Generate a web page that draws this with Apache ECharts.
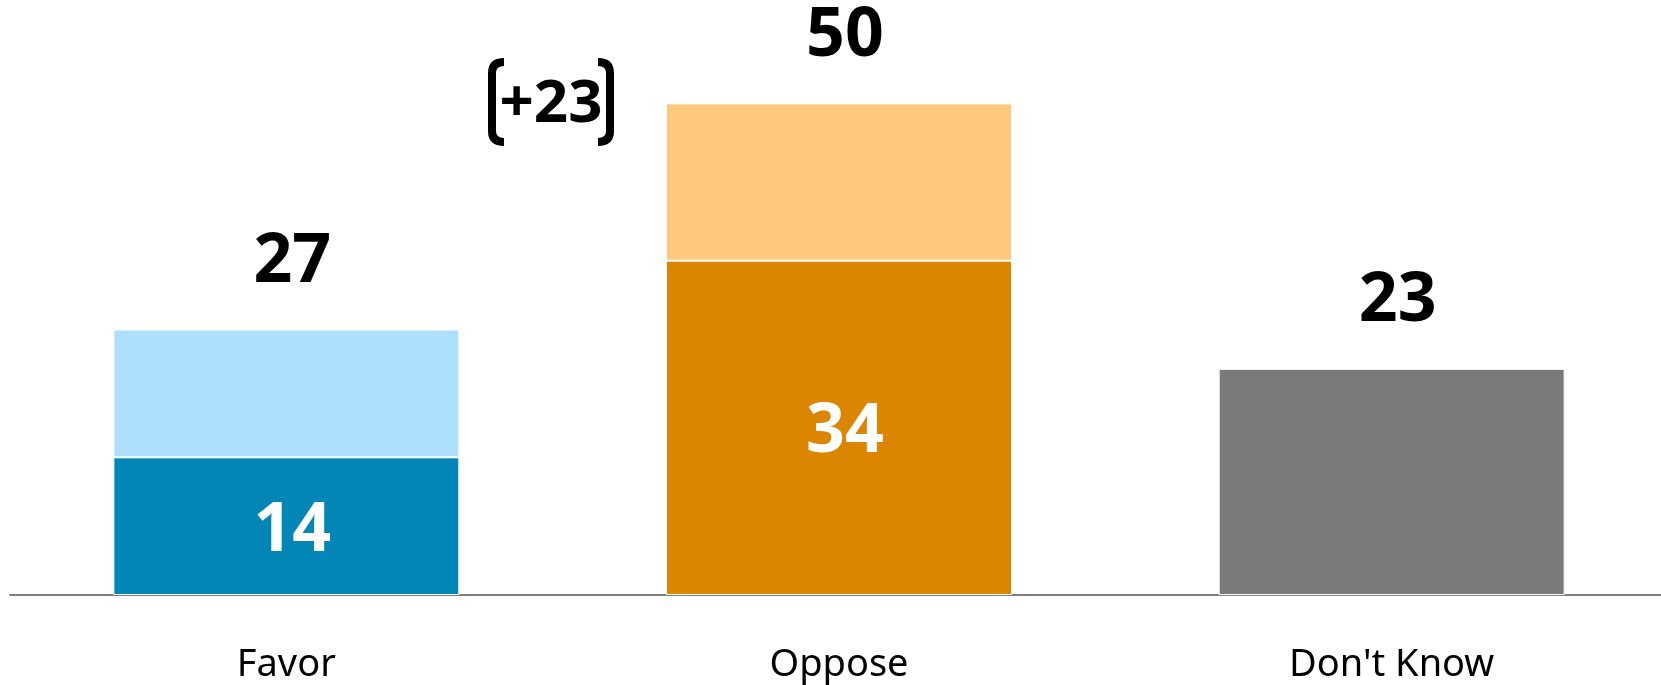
<!DOCTYPE html>
<html>
<head>
<meta charset="utf-8">
<script src="https://cdn.jsdelivr.net/npm/echarts@6/dist/echarts.min.js"></script>
<style>
  html, body { margin: 0; padding: 0; background: #ffffff; overflow: hidden; }
  #chart { width: 1668px; height: 685px; }
</style>
</head>
<body>
<div id="chart"></div>
<script>
// ---- Data ----
const categories = ['Favor', 'Oppose', "Don't Know"];
const baseValues = [14, 34, 23];       // strong / single segment
const topValues = [13, 16, null];      // remaining part of the stack
const totals = [27, 50, 23];           // totals shown above bars
const diffLabel = '+23';               // net difference annotation

// ---- Styles ----
const baseColors = ['#0286B5', '#DC8500', '#7A7A7A'];
const topColors = ['#AFDFFE', '#FFC97D', '#FFFFFF'];
const FONT = 'Noto Sans';

const chart = echarts.init(document.getElementById('chart'), null, { renderer: 'canvas' });

const bigLabel = {
  fontFamily: FONT,
  fontWeight: 'bold',
  fontSize: 68,
  lineHeight: 68
};

const baseData = baseValues.map((v, i) => {
  const hasTop = topValues[i] != null;
  return {
    value: v,
    itemStyle: { color: baseColors[i] },
    label: hasTop
      ? Object.assign({ show: true, position: 'inside', color: '#ffffff', offset: [6, 5],
          formatter: String(v) }, bigLabel)
      : Object.assign({ show: true, position: 'top', distance: 33, color: '#000000', offset: [6, 0],
          formatter: String(totals[i]) }, bigLabel)
  };
});

const topData = topValues.map((v, i) => {
  if (v == null) return { value: null };
  return {
    value: v,
    itemStyle: { color: topColors[i] },
    label: Object.assign({ show: true, position: 'top', distance: 33, color: '#000000', offset: [6, 0],
      formatter: String(totals[i]) }, bigLabel)
  };
});

const bracketStyle = { fill: null, stroke: '#000000', lineWidth: 8 };
function bracket(xTip, xLine) {
  return [
    { type: 'bezierCurve', shape: { x1: xTip, y1: 4, x2: xLine, y2: 15, cpx1: xLine, cpy1: 4 }, style: bracketStyle },
    { type: 'line', shape: { x1: xLine, y1: 15, x2: xLine, y2: 73 }, style: bracketStyle },
    { type: 'bezierCurve', shape: { x1: xLine, y1: 73, x2: xTip, y2: 84, cpx1: xLine, cpy1: 84 }, style: bracketStyle }
  ];
}

const option = {
  backgroundColor: '#ffffff',
  animation: false,
  grid: { left: 10, right: 0, top: 5, bottom: 90, containLabel: false },
  xAxis: {
    type: 'category',
    data: categories,
    axisLine: { show: true, lineStyle: { color: '#7F7F7F', width: 2 } },
    axisTick: { show: false },
    axisLabel: {
      color: '#000000',
      fontFamily: FONT,
      fontSize: 38,
      margin: 51,
      interval: 0
    },
    splitLine: { show: false }
  },
  yAxis: {
    type: 'value',
    min: 0,
    max: 60,
    show: false,
    splitLine: { show: false }
  },
  series: [
    {
      name: 'Base',
      type: 'bar',
      stack: 'total',
      barWidth: 346,
      data: baseData,
      itemStyle: { borderColor: '#ffffff', borderWidth: 1 }
    },
    {
      name: 'Top',
      type: 'bar',
      stack: 'total',
      barWidth: 346,
      data: topData,
      itemStyle: { borderColor: '#ffffff', borderWidth: 1 }
    }
  ],
  graphic: [
    {
      type: 'group',
      x: 486,
      y: 58,
      children: bracket(18, 6).concat(bracket(112, 124)).concat([
        {
          type: 'text',
          x: 65,
          y: 47,
          style: {
            text: diffLabel,
            fontFamily: FONT,
            fontWeight: 'bold',
            fontSize: 60,
            fill: '#000000',
            textAlign: 'center',
            textVerticalAlign: 'middle'
          }
        }
      ])
    }
  ]
};

chart.setOption(option);
</script>
</body>
</html>
